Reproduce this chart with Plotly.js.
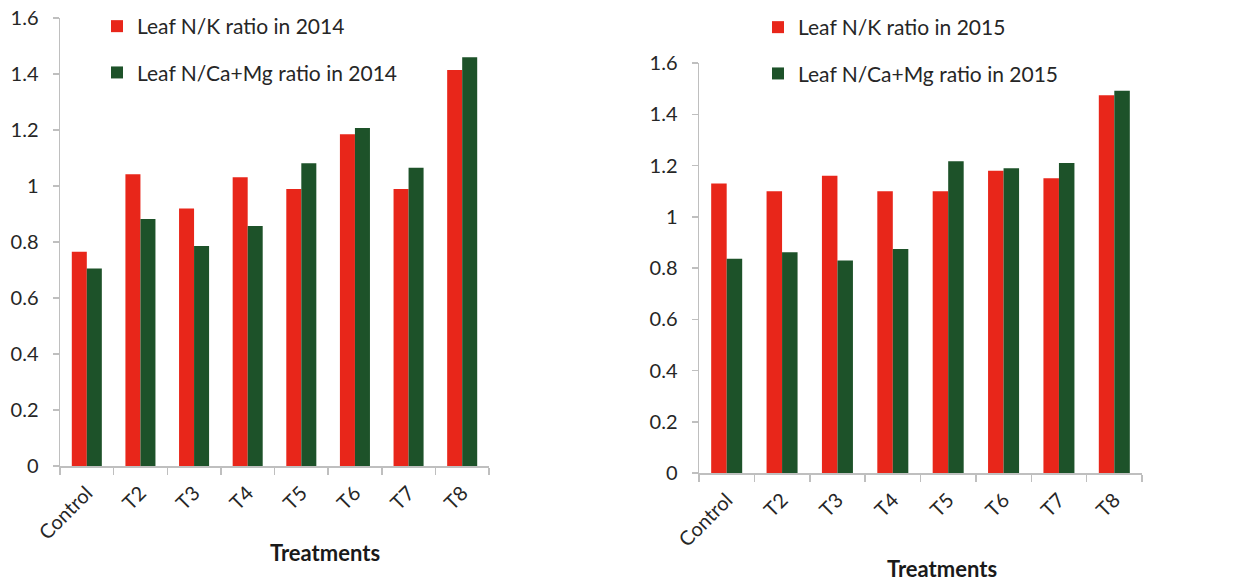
<!DOCTYPE html>
<html>
<head>
<meta charset="utf-8">
<script src="https://cdn.plot.ly/plotly-3.0.1.min.js"></script>
<style>html,body{margin:0;padding:0;background:#fff;}#chart{width:1233px;height:583px;}</style>
</head>
<body>
<div id="chart"></div>
<script>
var categories = ["Control", "T2", "T3", "T4", "T5", "T6", "T7", "T8"];
var nk2014 = [0.765, 1.042, 0.920, 1.031, 0.989, 1.185, 0.989, 1.414];
var ncamg2014 = [0.705, 0.882, 0.786, 0.857, 1.081, 1.207, 1.065, 1.460];
var nk2015 = [1.13, 1.10, 1.16, 1.10, 1.10, 1.18, 1.15, 1.474];
var ncamg2015 = [0.836, 0.861, 0.829, 0.874, 1.217, 1.189, 1.21, 1.492];
var yTicks = [0, 0.2, 0.4, 0.6, 0.8, 1, 1.2, 1.4, 1.6];
var yTickText = ["0", "0.2", "0.4", "0.6", "0.8", "1", "1.2", "1.4", "1.6"];

var RED = "#e8261a", GREEN = "#1d5229";
var FONT = "Lato, 'Open Sans', sans-serif";
var W = 1233, H = 583;

var traces = [
  {type:"bar", x:categories, y:nk2014, name:"Leaf N/K ratio in 2014", marker:{color:RED}, xaxis:"x", yaxis:"y", legend:"legend", legendgroup:"a"},
  {type:"bar", x:categories, y:ncamg2014, name:"Leaf N/Ca+Mg ratio in 2014", marker:{color:GREEN}, xaxis:"x", yaxis:"y", legend:"legend", legendgroup:"b"},
  {type:"bar", x:categories, y:nk2015, name:"Leaf N/K ratio in 2015", marker:{color:RED}, xaxis:"x2", yaxis:"y2", legend:"legend2", legendgroup:"c"},
  {type:"bar", x:categories, y:ncamg2015, name:"Leaf N/Ca+Mg ratio in 2015", marker:{color:GREEN}, xaxis:"x2", yaxis:"y2", legend:"legend2", legendgroup:"d"}
];

function xax(d0, d1, anchor) {
  return {domain:[d0/W, d1/W], anchor:anchor, showline:true, linecolor:"#bfbfbf", linewidth:1.5,
    ticks:"outside", tickson:"boundaries", ticklen:7, tickcolor:"#bfbfbf", tickwidth:1.5,
    ticklabelstandoff:6,
    tickangle:-45, tickfont:{family:FONT, size:20, color:"#262626"}, showgrid:false, zeroline:false, fixedrange:true};
}
function yax(top, bottom, anchor) {
  return {domain:[1-bottom/H, 1-top/H], anchor:anchor, range:[0,1.6], tickvals:yTicks, ticktext:yTickText,
    showline:true, linecolor:"#bfbfbf", linewidth:1.5, ticks:"outside", ticklen:6, tickcolor:"#bfbfbf", tickwidth:1.5,
    ticklabelstandoff:10, tickfont:{family:FONT, size:20, color:"#262626"}, showgrid:false, zeroline:false, fixedrange:true};
}

var legBase = {font:{family:FONT, size:21, color:"#262626"}, bgcolor:"rgba(0,0,0,0)", tracegroupgap:16,
  xanchor:"left", yanchor:"top", itemclick:false, itemdoubleclick:false};

var layout = {
  width:W, height:H, margin:{l:0,r:0,t:0,b:0}, paper_bgcolor:"#fff", plot_bgcolor:"#fff",
  barmode:"group", bargap:0.44, bargroupgap:0,
  xaxis: xax(60, 489, "y"),
  yaxis: yax(18, 466, "x"),
  xaxis2: xax(699, 1142, "y2"),
  yaxis2: yax(63, 473, "x2"),
  legend: Object.assign({}, legBase, {x:97/W, y:1-6/H}),
  legend2: Object.assign({}, legBase, {x:758/W, y:1-7/H}),
  annotations:[
    {text:"Treatments", xref:"paper", yref:"paper", x:325/W, y:1-552/H, showarrow:false, xanchor:"center", yanchor:"middle",
     font:{family:FONT, size:22, color:"#1a1a1a", weight:"bold"}},
    {text:"Treatments", xref:"paper", yref:"paper", x:942/W, y:1-568/H, showarrow:false, xanchor:"center", yanchor:"middle",
     font:{family:FONT, size:22, color:"#1a1a1a", weight:"bold"}}
  ],
  showlegend:true
};

Plotly.newPlot("chart", traces, layout, {displayModeBar:false, staticPlot:true});
</script>
</body>
</html>
